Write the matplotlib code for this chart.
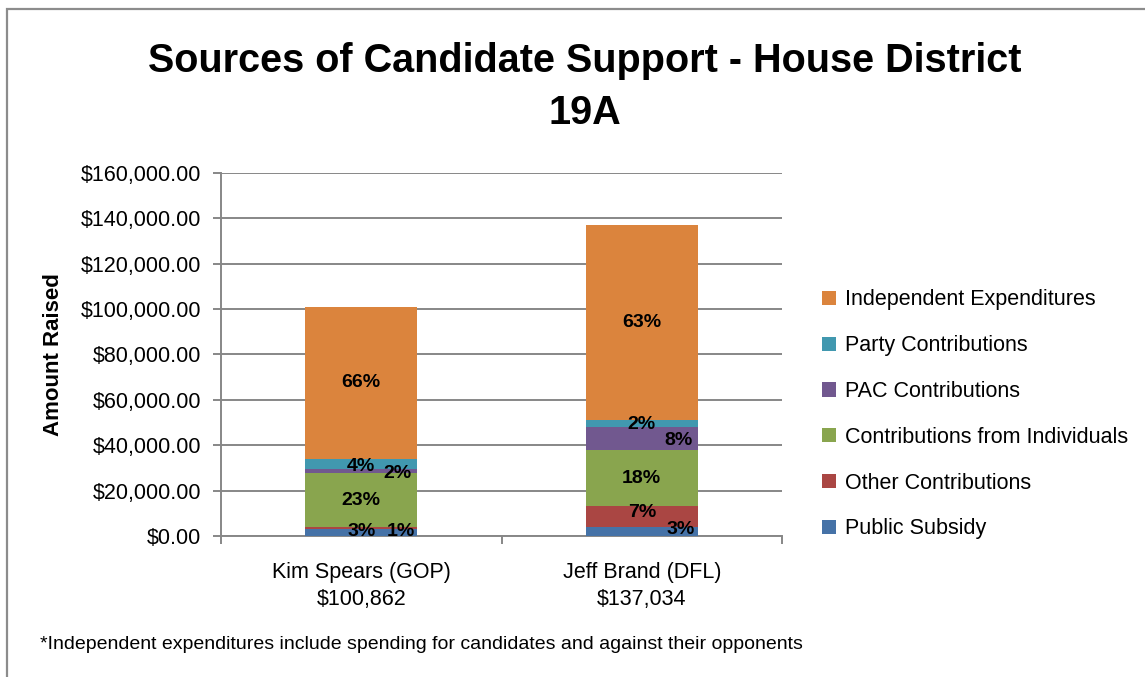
import matplotlib
matplotlib.use('Agg')
import matplotlib.pyplot as plt
from matplotlib.patches import Patch, Rectangle
from matplotlib.ticker import FuncFormatter
import numpy as np

plt.rcParams['font.family'] = ['Liberation Sans', 'DejaVu Sans']

candidates = ['Kim Spears (GOP)', 'Jeff Brand (DFL)']
totals = [100862, 137034]

# stacked bottom -> top
sources = ['Public Subsidy', 'Other Contributions', 'Contributions from Individuals',
           'PAC Contributions', 'Party Contributions', 'Independent Expenditures']
public_subsidy = [3100, 4000]
other_contrib = [900, 9300]
individuals = [23600, 24500]
pac_contrib = [2100, 10400]
party_contrib = [4300, 3000]
independent = [66862, 85834]

colors = ['#4572A7', '#AA4643', '#89A54E', '#71588F', '#4198AF', '#DB843D']

series = [public_subsidy, other_contrib, individuals, pac_contrib, party_contrib, independent]

# label nudges (x in category units, y in dollars) so small slices don't collide
nudge = {
    (0, 0): (0.0, 550), (0, 1): (0.14, -1450),
    (0, 3): (0.13, -900), (0, 4): (0.0, -1400),
    (1, 0): (0.14, 1000), (1, 1): (0.0, 1500),
    (1, 3): (0.13, -700), (1, 4): (0.0, -400),
}

fig = plt.figure(figsize=(11.45, 6.77), dpi=100)
ax = fig.add_axes([0.193, 0.2083, 0.490, 0.5362])

x = np.arange(len(candidates))
bottom = np.zeros(len(candidates))
for i, (vals, col) in enumerate(zip(series, colors)):
    vals = np.array(vals, dtype=float)
    ax.bar(x, vals, 0.4, bottom=bottom, color=col, zorder=3)
    for j in range(len(candidates)):
        pct = vals[j] / totals[j] * 100
        dx, dy = nudge.get((j, i), (0.0, 0.0))
        ax.text(x[j] + dx, bottom[j] + vals[j] / 2 + dy, f'{pct:.0f}%',
                ha='center', va='center', fontsize=14, fontweight='bold', zorder=4)
    bottom += vals

ax.set_xlim(-0.5, 1.5)
ax.set_ylim(0, 160000)
ax.set_yticks(np.arange(0, 160001, 20000))
ax.yaxis.set_major_formatter(FuncFormatter(lambda v, p: f'${v:,.2f}'))
ax.grid(axis='y', color='#878787', linewidth=1.4, zorder=0)
ax.set_xticks([-0.5, 0.5, 1.5])
ax.set_xticklabels([])
ax.set_xticks(x, minor=True)
ax.set_xticklabels([f'{c}\n${t:,}' for c, t in zip(candidates, totals)], minor=True,
                   linespacing=1.35)
ax.tick_params(axis='x', which='minor', length=0, pad=19, labelsize=15.5)
ax.tick_params(axis='x', which='major', length=6, width=1.4, color='#878787', direction='out')
ax.tick_params(axis='y', length=6, width=1.4, color='#878787', labelsize=15.5, pad=8)
for s in ['top', 'right']:
    ax.spines[s].set_visible(False)
for s in ['left', 'bottom']:
    ax.spines[s].set_color('#878787')
    ax.spines[s].set_linewidth(1.4)
ax.set_ylabel('Amount Raised', fontsize=16, fontweight='bold', labelpad=12)

handles = [Patch(facecolor=c) for c in colors[::-1]]
fig.legend(handles, sources[::-1], loc='upper left', bbox_to_anchor=(0.701, 0.601),
           frameon=False, fontsize=15.5, handlelength=0.65, handleheight=0.65,
           handletextpad=0.4, labelspacing=1.15)

fig.text(0.511, 1 - 87 / 677, 'Sources of Candidate Support - House District\n19A',
         ha='center', va='center', fontsize=28.5, fontweight='bold', linespacing=1.45)
fig.text(0.035, 0.035, '*Independent expenditures include spending for candidates and against their opponents',
         fontsize=14, va='bottom')

fig.add_artist(Rectangle((7 / 1145, -0.1), 1.2, 1 - 9 / 677 + 0.1, transform=fig.transFigure,
                         fill=False, edgecolor='#8c8c8c', linewidth=1.6))

fig.savefig('out.png', dpi=100)
